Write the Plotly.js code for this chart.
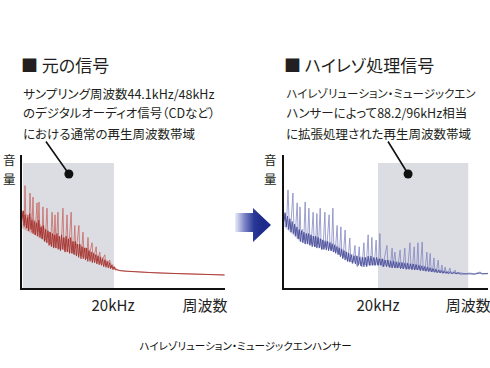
<!DOCTYPE html>
<html>
<head>
<meta charset="utf-8">
<script src="https://cdn.plot.ly/plotly-3.0.1.min.js"></script>
<style>
html,body{margin:0;padding:0;background:#fff;}
#chart{width:490px;height:368px;}
svg text{font-feature-settings:"palt" 1;}
</style>
</head>
<body>
<div id="chart"></div>
<script>
// ---------- data (kHz on x, relative level 0-100 on y) ----------
const origTitle = '■ 元の信号';
const hiresTitle = '■ ハイレゾ処理信号';
const origDesc = ['サンプリング周波数44.1kHz/48kHz', 'のデジタルオーディオ信号（CDなど）', 'における通常の再生周波数帯域'];
const hiresDesc = ['ハイレゾリューション・ミュージックエン', 'ハンサーによって88.2/96kHz相当', 'に拡張処理された再生周波数帯域'];
const yLabelChars = ['音', '量'];
const caption = 'ハイレゾリューション・ミュージックエンハンサー';
const tickTextX = ['20kHz', '周波数'];
const origTickVals = [20, 40.2];
const hiresTickVals = [20, 39.2];
const origBand = [0.2, 20.2];      // shaded reproduction band (kHz)
const hiresBand = [20, 39.2];
const bandTop = 94;
const origPointer = [10.3, 85.7];
const hiresPointer = [26.4, 85.7];

// red (original) - harmonic spikes + tail
const redX = [0,0.3,0.5,0.66,0.85,1.1,1.3,1.5,1.76,1.95,2.15,2.42,2.6,2.85,3.05,3.3,3.5,3.74,3.95,4.2,4.4,4.6,4.8,5.1,5.5,5.7,6.0,6.3,6.6,6.8,7.0,7.25,7.45,7.65,7.9,8.1,8.4,8.7,9.0,9.2,9.5,9.9,10.1,10.4,10.8,11.0,11.3,11.6,11.8,12.1,12.5,12.7,13.0,13.4,13.6,13.9,14.2,14.5,14.7,15.0,15.4,15.6,15.9,16.3,16.5,16.8,17.1,17.3,17.7,18.2,18.4,18.8,19.3,19.5,19.8,20.1,20.4,20.8,21.5,23,25,28,31,34,37,40,42,44.5];
const redY = [50,58,46,77,52,45,55,44,71.4,48,42,68.4,46,40,50,64,42,64.7,40,46,37,61,41,36,60,38,42,33,57,36,31,55,35,40,57,33,29,38,60,33,28,55,31,36,57,30,26,47,30,34,47,27,24,42,27,30,22,38,24,28,34,22,25,31,20,23,27,19,22,25,17,19,21,15,17.5,14,15.5,13.5,13,12.5,12.2,11.5,11.2,10.8,10.5,10.2,10,9.8];
// red dense noise floor and tail
const redNoiseX = [0,0.25,0.45,0.7,0.95,1.2,1.45,1.7,1.95,2.2,2.45,2.7,2.95,3.2,3.45,3.7,3.95,4.2,4.45,4.7,4.95,5.2,5.45,5.7,5.95,6.2,6.45,6.7,6.95,7.2,7.45,7.7,7.95,8.2,8.45,8.7,8.95,9.2,9.45,9.7,9.95,10.2,10.45,10.7,10.95,11.2,11.45,11.7,11.95,12.2,12.45,12.7,12.95,13.2,13.45,13.7,13.95,14.2,14.45,14.7,14.95,15.2,15.45,15.7,15.95,16.2,16.45,16.7,16.95,17.2,17.45,17.7,17.95,18.2,18.45,18.7,18.95,19.2,19.45,19.7,19.95,20.2,20.5,20.8,21.5,23,25,28,31,34,37,40,42,44.5];
const redNoiseY = [52,58,47,55,45,53,43,56,44,51,41,50,40,49,39,51,38,46,37,47,35,44,34,43,32,42,31,41,30,40,30,41,29,39,28,40,29,38,27,39,27,37,26,38,26,35,25,35,24,33,23,33,22,31,22,30,21,30,20,28,20,27,19,26,19,25,18,24,17.5,23,17,22,16,21,15.5,20,15,19,14.5,17,14,16,13.5,14,13,12.6,12.2,11.6,11.2,10.8,10.5,10.2,10,9.8];
const redBandX = [0,1.76,3.3,5.05,6.8,8.8,10.5,12.3,14.3,16.0,17.8,19.3,20.2,20.8];
const redBandHi = [58,54,50,45,40,38,36,33,30,26,23,19.5,17,14.2];
const redBandLo = [45,42,39,35,31,29,27,24.5,22,19.5,17.5,15.5,14,13];

// blue (hi-res) - harmonic spikes
const blueX = [0,0.2,0.5,0.85,1.1,1.4,1.9,2.1,2.4,2.8,3.0,3.2,3.4,3.6,3.9,4.2,4.5,4.7,5.0,5.3,5.5,5.8,6.2,6.4,6.7,7.0,7.2,7.4,7.7,7.9,8.3,8.7,8.9,9.2,9.6,9.8,10.1,10.4,10.6,10.9,11.3,11.5,11.8,12.1,12.3,12.6,13.0,13.2,13.6,14.0,14.2,14.6,15.1,15.3,15.6,16.0,16.2,16.6,17.0,17.2,17.5,17.9,18.1,18.4,18.7,18.9,19.2,19.6,19.8,20.1,20.4,20.6,21.0,21.4,21.9,22.1,22.6,23.0,23.2,23.6,23.9,24.3,24.7,24.9,25.3,25.7,25.9,26.3,26.8,27.0,27.3,27.7,27.9,28.2,28.5,28.7,29.0,29.4,29.6,30.0,30.4,30.6,30.8,31.1,31.3,31.6,31.9,32.1,32.4,32.8,33.0,33.3,33.6,33.8,34.0,34.3,34.5,34.9,35.3,35.5,35.9,36.4,36.6,37.5,38.5,39.6,40.5,41.7,42.2,43.4];
const blueY = [52,57,46,73.7,50,44,71.4,46,40,64,42,37,61,40,44,36,64.7,38,35,60,37,33,57,36,31,56,33,37,60,32,29,57,31,35,55,30,28,60,30,27,47,28,25,46,26,23,43.6,24,20,37.6,21,18,32,19,16,31,18,16,34,18,17,40,19,17,38,19,17,36,19,17,41,19,16,24,32,18,15.5,30,17,27,15,18,28.6,16,14.5,30,16,14.5,34,16,14,31,15,14,34,15,13.5,34.6,15,13,27,14,13,26,13.5,12.5,22.6,13,12,21,12.5,11.8,17.3,12,11.5,15.8,11.5,11.2,15,11.2,11,13.5,11,11.5,10.8,11.2,10.6,12,10.8,11];
// blue dense noise floor and tail
const blueNoiseX = [0,0.25,0.5,0.75,1.0,1.25,1.5,1.75,2.0,2.25,2.5,2.75,3.0,3.25,3.5,3.75,4.0,4.25,4.5,4.75,5.0,5.25,5.5,5.75,6.0,6.25,6.5,6.75,7.0,7.25,7.5,7.75,8.0,8.25,8.5,8.75,9.0,9.25,9.5,9.75,10.0,10.25,10.5,10.75,11.0,11.25,11.5,11.75,12.0,12.25,12.5,12.75,13.0,13.25,13.5,13.75,14.0,14.3,14.6,14.9,15.2,15.5,15.8,16.1,16.4,16.7,17.0,17.3,17.6,17.9,18.2,18.5,18.8,19.1,19.4,19.7,20.0,20.3,20.6,20.9,21.2,21.5,21.8,22.1,22.4,22.7,23.0,23.3,23.6,23.9,24.2,24.5,24.8,25.1,25.4,25.7,26.0,26.3,26.6,26.9,27.2,27.5,27.8,28.1,28.4,28.7,29.0,29.3,29.6,29.9,30.2,30.5,30.8,31.1,31.4,31.7,32.0,32.3,32.6,32.9,33.2,33.5,33.8,34.1,34.4,34.7,35.0,35.4,35.8,36.2,36.6,37.0,37.5,38.5,39.6,40.5,41.7,42.2,43.4];
const blueNoiseY = [50,56,46,54,44,52,42,50,41,48,39,46,37,44,35,43,34,42,33,41,33,41,32,40,31,39,31,39,30,38,30,37,29,36,29,35,28.5,35,28,34,28,33,27,32,26,31,25,30,23.5,29,22,28,21,27,20,26,19.5,25,19,24,18,24,17,23,16.5,23,16,23,16,24,17,24,17,23,17,23,17,22,17,22,16,21,16,21,15.5,20,15,20,15,19.5,15,19,14.5,19,14.5,18.5,14,18.5,14,18,13.8,18,13.5,17.5,13.5,17,13,16.5,13,16,12.5,15.5,12.3,15,12,14.5,11.8,14,11.5,13.5,11.3,13,11,12.5,11,12.2,10.8,12,10.8,11.8,10.6,11.5,10.5,10.8,10.6,10.4,11.2,10.6,10.8];
const blueBandX = [0,3.4,7.0,10.4,14.0,17.5,20.4,24.7,29.0,32.8,37.5];
const blueBandHi = [54,42,38,34,26,22.5,22,19.5,17.5,14,11.5];
const blueBandLo = [46,35,31,29,20,17,17.5,15,13.5,11.5,10.2];

// decorative arrow outline (page pixels)
const arrowX = [235,253,253,271,253,253,235,235];
const arrowY = [213,213,208,225,242,232,232,213];

// ---------- layout geometry ----------
const W = 490, H = 368;
const px = v => v / W;
const py = v => 1 - v / H;
const FONT = '"Noto Sans CJK JP", "Noto Sans", sans-serif';

const traces = [
  {x: redBandX, y: redBandLo, xaxis:'x', yaxis:'y', mode:'lines', line:{width:0}, hoverinfo:'skip'},
  {x: redBandX, y: redBandHi, xaxis:'x', yaxis:'y', mode:'lines', line:{width:0}, fill:'tonexty', fillcolor:'rgba(175,60,55,0.28)', hoverinfo:'skip'},
  {x: redX, y: redY, xaxis:'x', yaxis:'y', mode:'lines', line:{width:0.9, color:'rgba(196,100,95,0.85)'}, hoverinfo:'skip'},
  {x: redNoiseX, y: redNoiseY, xaxis:'x', yaxis:'y', mode:'lines', line:{width:0.9, color:'rgba(160,40,36,0.85)'}, hoverinfo:'skip'},
  {x: [origPointer[0]], y: [origPointer[1]], xaxis:'x', yaxis:'y', mode:'markers', marker:{size:9, color:'#111'}, hoverinfo:'skip'},

  {x: blueBandX, y: blueBandLo, xaxis:'x2', yaxis:'y2', mode:'lines', line:{width:0}, hoverinfo:'skip'},
  {x: blueBandX, y: blueBandHi, xaxis:'x2', yaxis:'y2', mode:'lines', line:{width:0}, fill:'tonexty', fillcolor:'rgba(80,85,160,0.28)', hoverinfo:'skip'},
  {x: blueX, y: blueY, xaxis:'x2', yaxis:'y2', mode:'lines', line:{width:0.9, color:'rgba(128,132,192,0.85)'}, hoverinfo:'skip'},
  {x: blueNoiseX, y: blueNoiseY, xaxis:'x2', yaxis:'y2', mode:'lines', line:{width:0.9, color:'rgba(62,66,145,0.85)'}, hoverinfo:'skip'},
  {x: [hiresPointer[0]], y: [hiresPointer[1]], xaxis:'x2', yaxis:'y2', mode:'markers', marker:{size:9, color:'#111'}, hoverinfo:'skip'},

  {x: arrowX, y: arrowY, xaxis:'x3', yaxis:'y3', mode:'lines', line:{width:0}, fill:'toself',
   fillgradient:{type:'horizontal', start:235, stop:262, colorscale:[[0,'#eceefa'],[0.35,'#7d86c6'],[0.7,'#2a3897'],[1,'#1e2b8a']]}, hoverinfo:'skip'}
];

const xAxisCommon = {
  showgrid:false, zeroline:false, showline:true, linecolor:'#111', linewidth:2.2,
  ticks:'', tickmode:'array', ticktext: tickTextX, fixedrange:true, ticklabeloverflow:'allow',
  ticklabelstandoff:3,
  tickfont:{family:FONT, size:15, color:'#222'}
};
const yAxisCommon = {
  showgrid:false, zeroline:false, showline:true, linecolor:'#111', linewidth:2,
  showticklabels:false, ticks:'', range:[0,100], fixedrange:true
};

const annotations = [
  {text: origTitle, x:px(19), y:py(65), xref:'paper', yref:'paper', xanchor:'left', yanchor:'middle', showarrow:false, font:{family:FONT, size:17, color:'#231f20'}},
  {text: hiresTitle, x:px(282), y:py(65), xref:'paper', yref:'paper', xanchor:'left', yanchor:'middle', showarrow:false, font:{family:FONT, size:17, color:'#231f20'}},
  {text: caption, x:px(245), y:py(345), xref:'paper', yref:'paper', xanchor:'center', yanchor:'middle', showarrow:false, font:{family:FONT, size:10.5, color:'#111'}},
  {text:'', x:origPointer[0], y:origPointer[1], xref:'x', yref:'y', showarrow:true, arrowhead:0, arrowwidth:1.6, arrowcolor:'#111', ax:-24, ay:-34, standoff:0},
  {text:'', x:hiresPointer[0], y:hiresPointer[1], xref:'x2', yref:'y2', showarrow:true, arrowhead:0, arrowwidth:1.6, arrowcolor:'#111', ax:-21, ay:-34, standoff:0}
];
yLabelChars.forEach((c,i) => {
  [9, 270].forEach(xp => annotations.push({text:c, x:px(xp), y:py(160 + 18.5*i), xref:'paper', yref:'paper', xanchor:'center', yanchor:'middle', showarrow:false, font:{family:FONT, size:12.5, color:'#231f20'}}));
});
origDesc.forEach((t,i) => annotations.push({text:t, x:px(21), y:py(93 + 20*i), xref:'paper', yref:'paper', xanchor:'left', yanchor:'middle', showarrow:false, font:{family:FONT, size:12.5, color:'#231f20'}}));
hiresDesc.forEach((t,i) => annotations.push({text:t, x:px(284), y:py(93 + 20*i), xref:'paper', yref:'paper', xanchor:'left', yanchor:'middle', showarrow:false, font:{family:FONT, size:(i === 0 ? 11.5 : 12.5), color:'#231f20'}}));

const shapes = [
  {type:'rect', xref:'x', yref:'y', x0:origBand[0], x1:origBand[1], y0:0, y1:bandTop, fillcolor:'#dcdde3', line:{width:0}, layer:'below'},
  {type:'rect', xref:'x2', yref:'y2', x0:hiresBand[0], x1:hiresBand[1], y0:0, y1:bandTop, fillcolor:'#dcdde3', line:{width:0}, layer:'below'}
];

const layout = {
  width:W, height:H, margin:{l:0, r:0, t:0, b:0},
  paper_bgcolor:'#fff', plot_bgcolor:'rgba(0,0,0,0)', showlegend:false,
  font:{family:FONT},
  xaxis: Object.assign({}, xAxisCommon, {domain:[px(22), px(225)], range:[0,44.6], tickvals: origTickVals, anchor:'y'}),
  yaxis: Object.assign({}, yAxisCommon, {domain:[py(288), py(155)], anchor:'x'}),
  xaxis2: Object.assign({}, xAxisCommon, {domain:[px(284), px(488)], range:[0,43.4], tickvals: hiresTickVals, anchor:'y2'}),
  yaxis2: Object.assign({}, yAxisCommon, {domain:[py(288), py(155)], anchor:'x2'}),
  xaxis3: {domain:[0,1], range:[0,W], visible:false, fixedrange:true, anchor:'y3'},
  yaxis3: {domain:[0,1], range:[H,0], visible:false, fixedrange:true, anchor:'x3'},
  annotations: annotations,
  shapes: shapes
};

Plotly.newPlot('chart', traces, layout, {staticPlot:true, displayModeBar:false});
</script>
</body>
</html>
